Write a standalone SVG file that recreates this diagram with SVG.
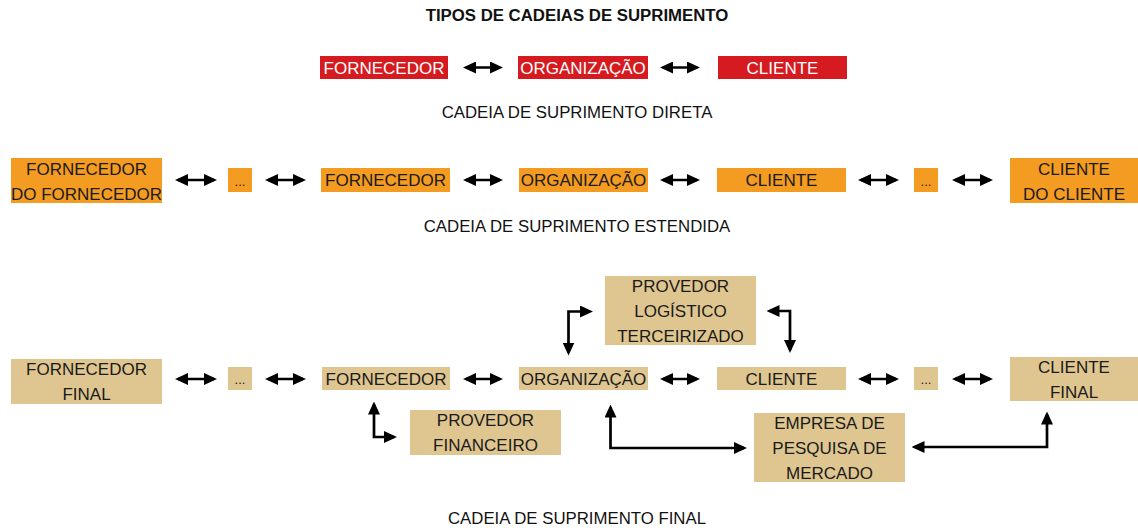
<svg xmlns="http://www.w3.org/2000/svg" width="1138" height="528" viewBox="0 0 1138 528">
<style>
text{font-family:"Liberation Sans",Arial,sans-serif;font-size:17px;text-anchor:middle;fill:#1a1a1a}
.red rect{fill:#d51b1f}
.red text{fill:#ffffff}
.org rect{fill:#f49b21}
.tan rect{fill:#dfc690}
.lbl{font-size:16.8px;fill:#111}
.title{font-weight:bold;font-size:16.8px;fill:#111}
.dots{font-size:13px}
.con path,.con line{stroke:#000;stroke-width:2.7;fill:none;marker-start:url(#ah);marker-end:url(#ah)}
</style>
<defs>
<marker id="ah" viewBox="0 0 13 12" markerWidth="13" markerHeight="12" refX="10" refY="6" orient="auto-start-reverse" markerUnits="userSpaceOnUse">
<path d="M0,0 L13,6 L0,12 z" fill="#000"/>
</marker>
</defs>
<rect width="1138" height="528" fill="#fff"/>
<text class="title" x="577" y="21">TIPOS DE CADEIAS DE SUPRIMENTO</text>
<text class="lbl" x="577" y="118">CADEIA DE SUPRIMENTO DIRETA</text>
<text class="lbl" x="577" y="232">CADEIA DE SUPRIMENTO ESTENDIDA</text>
<text class="lbl" x="577" y="524">CADEIA DE SUPRIMENTO FINAL</text>

<g id="d-fornecedor" class="red"><rect x="320" y="56" width="128" height="23"/><text x="384" y="73.5">FORNECEDOR</text></g>
<g id="d-organizacao" class="red"><rect x="518" y="56" width="130" height="23"/><text x="583" y="73.5">ORGANIZAÇÃO</text></g>
<g id="d-cliente" class="red"><rect x="718" y="56" width="129" height="23"/><text x="782.5" y="73.5">CLIENTE</text></g>

<g id="e-forn-forn" class="org"><rect x="11" y="158" width="151" height="45"/><text x="86.5" y="175">FORNECEDOR</text><text x="86.5" y="200">DO FORNECEDOR</text></g>
<g id="e-dots1" class="org"><rect x="228" y="168" width="24" height="24"/><text class="dots" x="240" y="186">...</text></g>
<g id="e-fornecedor" class="org"><rect x="321" y="168" width="129" height="24"/><text x="385.5" y="186">FORNECEDOR</text></g>
<g id="e-organizacao" class="org"><rect x="519" y="168" width="129" height="24"/><text x="583.5" y="186">ORGANIZAÇÃO</text></g>
<g id="e-cliente" class="org"><rect x="717" y="168" width="129" height="24"/><text x="781.5" y="186">CLIENTE</text></g>
<g id="e-dots2" class="org"><rect x="914" y="168" width="24" height="24"/><text class="dots" x="926" y="186">...</text></g>
<g id="e-cli-cli" class="org"><rect x="1010" y="158" width="128" height="45"/><text x="1074" y="175">CLIENTE</text><text x="1074" y="200">DO CLIENTE</text></g>

<g id="f-forn-final" class="tan"><rect x="11" y="359" width="151" height="45"/><text x="86.5" y="375">FORNECEDOR</text><text x="86.5" y="400">FINAL</text></g>
<g id="f-dots1" class="tan"><rect x="228" y="367" width="24" height="23"/><text class="dots" x="240" y="384">...</text></g>
<g id="f-fornecedor" class="tan"><rect x="322" y="367" width="128" height="23"/><text x="386" y="384.5">FORNECEDOR</text></g>
<g id="f-organizacao" class="tan"><rect x="519" y="367" width="129" height="23"/><text x="583.5" y="384.5">ORGANIZAÇÃO</text></g>
<g id="f-cliente" class="tan"><rect x="717" y="367" width="129" height="23"/><text x="781.5" y="385">CLIENTE</text></g>
<g id="f-dots2" class="tan"><rect x="914" y="367" width="24" height="23"/><text class="dots" x="926" y="384">...</text></g>
<g id="f-cli-final" class="tan"><rect x="1010" y="357" width="128" height="44"/><text x="1074" y="373">CLIENTE</text><text x="1074" y="398">FINAL</text></g>
<g id="f-logistico" class="tan"><rect x="605" y="276" width="151" height="69"/><text x="680.5" y="292">PROVEDOR</text><text x="680.5" y="317">LOGÍSTICO</text><text x="680.5" y="342">TERCEIRIZADO</text></g>
<g id="f-financeiro" class="tan"><rect x="410" y="410" width="151" height="45"/><text x="485.5" y="426">PROVEDOR</text><text x="485.5" y="451">FINANCEIRO</text></g>
<g id="f-pesquisa" class="tan"><rect x="754" y="413" width="151" height="69"/><text x="829.5" y="429">EMPRESA DE</text><text x="829.5" y="454">PESQUISA DE</text><text x="829.5" y="479">MERCADO</text></g>

<g id="connectors" class="con">
<line x1="466" y1="67.5" x2="500" y2="67.5"/>
<line x1="663" y1="67.5" x2="697" y2="67.5"/>

<line x1="178" y1="180" x2="214" y2="180"/>
<line x1="268" y1="180" x2="303" y2="180"/>
<line x1="466" y1="180" x2="500" y2="180"/>
<line x1="663" y1="180" x2="697" y2="180"/>
<line x1="861" y1="180" x2="896" y2="180"/>
<line x1="955" y1="180" x2="990" y2="180"/>

<line x1="178" y1="379" x2="214" y2="379"/>
<line x1="268" y1="379" x2="303" y2="379"/>
<line x1="466" y1="379" x2="500" y2="379"/>
<line x1="663" y1="379" x2="697" y2="379"/>
<line x1="861" y1="379" x2="896" y2="379"/>
<line x1="955" y1="379" x2="990" y2="379"/>

<path d="M568.5,352.5 V311.5 H590"/>
<path d="M769.5,311 H790 V350"/>
<path d="M374,404.5 V437 H394"/>
<path d="M610.5,407.5 V448 H744"/>
<path d="M914.5,447 H1047 V414.5"/>
</g>
</svg>
